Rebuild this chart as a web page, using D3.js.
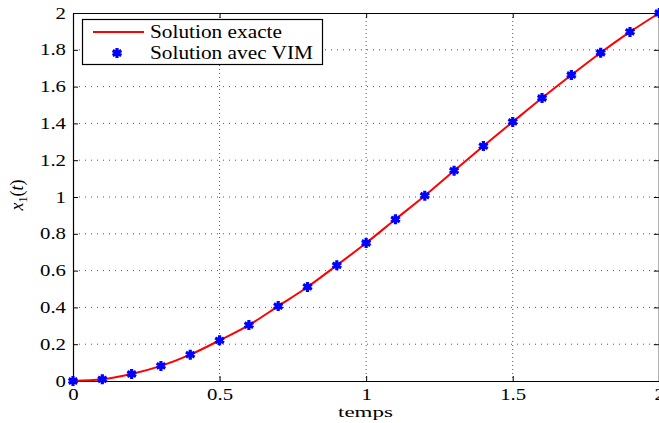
<!DOCTYPE html>
<html><head><meta charset="utf-8">
<script src="https://cdn.jsdelivr.net/npm/d3@7"></script>
<style>
body{margin:0;background:#fff;}
svg text{font-family:"Liberation Serif","Times New Roman",serif !important;}
</style></head>
<body><svg id="c" width="659" height="423"></svg>
<script>
const tValues = [0,0.1,0.2,0.3,0.4,0.5,0.6,0.7,0.8,0.9,1.0,1.1,1.2,1.3,1.4,1.5,1.6,1.7,1.8,1.9,2.0];
const exactValues = [0,0.009,0.038,0.082,0.143,0.221,0.304,0.407,0.511,0.629,0.75,0.879,1.007,1.143,1.277,1.408,1.538,1.663,1.784,1.897,2.0];
const vimValues = [0,0.009,0.038,0.082,0.143,0.221,0.304,0.407,0.511,0.629,0.75,0.879,1.007,1.143,1.277,1.408,1.538,1.663,1.784,1.897,2.0];
const xTicks = [0,0.5,1,1.5,2];
const xTickLabels = ["0","0.5","1","1.5","2"];
const yTicks = [0,0.2,0.4,0.6,0.8,1,1.2,1.4,1.6,1.8,2];
const yTickLabels = ["0","0.2","0.4","0.6","0.8","1","1.2","1.4","1.6","1.8","2"];
const seriesNames = ["Solution exacte","Solution avec VIM"];

const svg = d3.select("#c");
const L=73, R=659.3, T=13, B=381;
const x = d3.scaleLinear().domain([0,2]).range([L,R]);
const y = d3.scaleLinear().domain([0,2]).range([B,T]);

function stretch(sel, k){
  sel.each(function(){
    const w = this.getComputedTextLength();
    d3.select(this).attr("textLength", w*k).attr("lengthAdjust","spacingAndGlyphs");
  });
}

// grid
const g = svg.append("g");
g.selectAll(".vg").data(xTicks.slice(1,-1)).enter().append("line")
 .attr("x1",d=>x(d)).attr("x2",d=>x(d)).attr("y1",T).attr("y2",B)
 .attr("stroke","#555").attr("stroke-width",1).attr("stroke-dasharray","1,3");
g.selectAll(".hg").data(yTicks.slice(1,-1)).enter().append("line")
 .attr("y1",d=>y(d)).attr("y2",d=>y(d)).attr("x1",L).attr("x2",R)
 .attr("stroke","#555").attr("stroke-width",1).attr("stroke-dasharray","1,5");

// axes
const fs = "16px";
const axB = svg.append("g").attr("transform",`translate(0,${B})`)
 .call(d3.axisBottom(x).tickValues(xTicks).tickFormat((d,i)=>xTickLabels[i]).tickSizeInner(-5).tickSizeOuter(0).tickPadding(8));
const axT = svg.append("g").attr("transform",`translate(0,${T})`)
 .call(d3.axisTop(x).tickValues(xTicks).tickFormat("").tickSizeInner(-5).tickSizeOuter(0));
const axL = svg.append("g").attr("transform",`translate(${L},0)`)
 .call(d3.axisLeft(y).tickValues(yTicks).tickFormat((d,i)=>yTickLabels[i]).tickSizeInner(-5).tickSizeOuter(0).tickPadding(7));
const axR = svg.append("g").attr("transform",`translate(${R-0.5},0)`)
 .call(d3.axisRight(y).tickValues(yTicks).tickFormat("").tickSizeInner(-5).tickSizeOuter(0));
[axB,axT,axL,axR].forEach(a=>{
  a.attr("font-family","Liberation Serif");
  a.selectAll("path").attr("stroke","#000").attr("stroke-width",1.2);
  a.selectAll("line").attr("stroke","#000");
  a.selectAll("text").attr("font-size",fs).attr("fill","#000");
  stretch(a.selectAll("text"), 1.3);
});

// lines
const line = d3.line().x((d,i)=>x(tValues[i])).y(d=>y(d)).curve(d3.curveMonotoneX);
svg.append("path").datum(exactValues).attr("d",line).attr("fill","none")
 .attr("stroke","#ff0000").attr("stroke-width",2);

const sym = d3.symbol().type(d3.symbolAsterisk).size(70);
svg.selectAll(".m").data(vimValues).enter().append("path")
 .attr("d",sym).attr("transform",(d,i)=>`translate(${x(tValues[i])},${y(d)})`)
 .attr("fill","none").attr("stroke","#0000ff").attr("stroke-width",3.2);

// labels
svg.append("text").attr("x",338).attr("y",417)
 .attr("font-size","15px").attr("textLength",55).attr("lengthAdjust","spacingAndGlyphs").text("temps");
const yl = svg.append("text").attr("transform","translate(23,195) rotate(-90)")
 .attr("text-anchor","middle").attr("font-size","18px");
yl.append("tspan").attr("font-style","italic").text("x");
yl.append("tspan").attr("font-size","12px").attr("dy",4).text("1");
yl.append("tspan").attr("dy",-4).text("(");
yl.append("tspan").attr("font-style","italic").text("t");
yl.append("tspan").text(")");

// legend
const lg = svg.append("g");
lg.append("rect").attr("x",82.5).attr("y",19.5).attr("width",240).attr("height",45)
 .attr("fill","#fff").attr("stroke","#000").attr("stroke-width",1.2);
lg.append("line").attr("x1",93).attr("x2",144).attr("y1",32).attr("y2",32)
 .attr("stroke","#ff0000").attr("stroke-width",2);
lg.append("path").attr("d",sym).attr("transform","translate(117,53)")
 .attr("fill","none").attr("stroke","#0000ff").attr("stroke-width",3.2);
lg.append("text").attr("x",150).attr("y",38).attr("font-size","18px")
 .attr("textLength",132).attr("lengthAdjust","spacingAndGlyphs").text(seriesNames[0]);
lg.append("text").attr("x",150).attr("y",59).attr("font-size","18px")
 .attr("textLength",163).attr("lengthAdjust","spacingAndGlyphs").text(seriesNames[1]);
</script></body></html>
